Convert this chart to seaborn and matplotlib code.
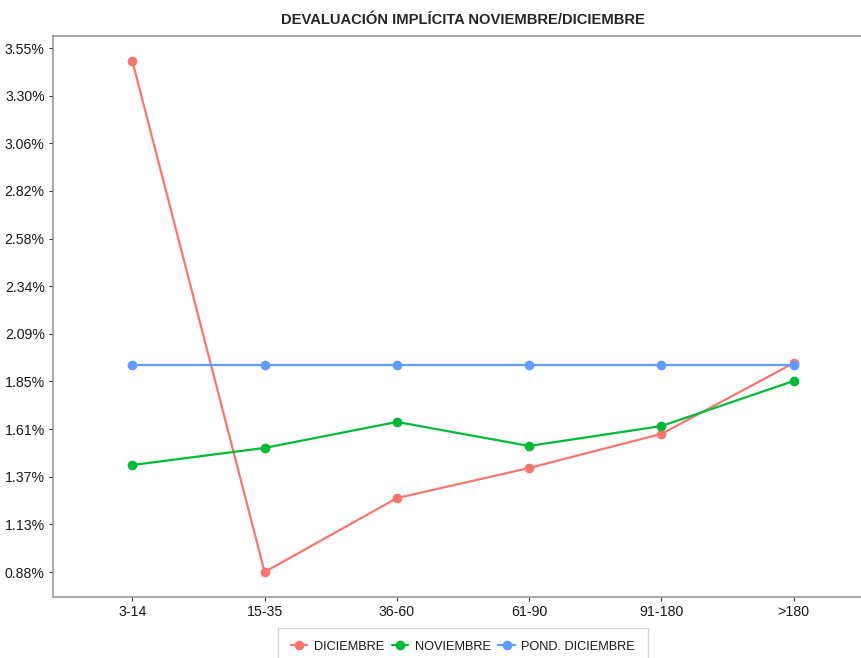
import matplotlib
matplotlib.use("Agg")
import matplotlib.pyplot as plt
import seaborn as sns
import pandas as pd

# datos (en %)
plazos = ["3-14", "15-35", "36-60", "61-90", "91-180", ">180"]
diciembre = [3.481, 0.8845, 1.260, 1.413, 1.586, 1.946]
noviembre = [1.428, 1.515, 1.647, 1.525, 1.626, 1.855]
pond_diciembre = [1.936, 1.936, 1.936, 1.936, 1.936, 1.936]

series = ["DICIEMBRE", "NOVIEMBRE", "POND. DICIEMBRE"]
colores = ["#F8766D", "#00BA38", "#619CFF"]

ticks_y = [0.8845, 1.1266, 1.3686, 1.6107, 1.8527, 2.0948, 2.3368, 2.5789, 2.8209, 3.0630, 3.3050, 3.5470]
etiquetas_y = ["0.88%", "1.13%", "1.37%", "1.61%", "1.85%", "2.09%", "2.34%", "2.58%", "2.82%", "3.06%", "3.30%", "3.55%"]

df = pd.DataFrame({
    "plazo": plazos * 3,
    "valor": diciembre + noviembre + pond_diciembre,
    "serie": [series[0]] * 6 + [series[1]] * 6 + [series[2]] * 6,
})

sns.set_style("white")
plt.rcParams["font.family"] = ["Liberation Sans", "DejaVu Sans"]

fig = plt.figure(figsize=(8.62, 6.58), dpi=100)
ax = fig.add_axes([53 / 862, 61 / 658, 820 / 862, 561 / 658])

sns.pointplot(data=df, x="plazo", y="valor", hue="serie", order=plazos,
              hue_order=series, palette=colores, markers="o", linestyles="-",
              markersize=5.8, linewidth=1.6, ax=ax, legend=True)

ax.set_xlim(-0.6, 5.6)
ax.set_ylim(0.7575, 3.608)
ax.set_yticks(ticks_y)
ax.set_yticklabels(etiquetas_y)
ax.set_xlabel("")
ax.set_ylabel("")
ax.tick_params(axis="both", labelsize=10.2, colors="#333333", length=3, width=0.8,
               direction="out", bottom=True, left=True, pad=3)
for lab in ax.get_xticklabels() + ax.get_yticklabels():
    lab.set_color("#1a1a1a")

for lado in ["left", "bottom", "top", "right"]:
    ax.spines[lado].set_color("#9a9a9a")
    ax.spines[lado].set_linewidth(1.2)
ax.grid(False)

fig.text(463 / 862, 1 - 20 / 658, "DEVALUACIÓN IMPLÍCITA NOVIEMBRE/DICIEMBRE",
         ha="center", va="center", fontsize=10.6, fontweight="bold")

handles, labels = ax.get_legend_handles_labels()
ax.get_legend().remove()
leg = fig.legend(handles, labels, loc="upper center", bbox_to_anchor=(463 / 862, 30 / 658),
                 ncol=3, frameon=True, fontsize=9.2, handlelength=1.3, columnspacing=0.6,
                 handletextpad=0.5, borderpad=1.0, borderaxespad=0, fancybox=False)
for t in leg.get_texts():
    t.set_color("#1a1a1a")
leg.get_frame().set_edgecolor("#cccccc")
leg.get_frame().set_linewidth(1.0)

fig.savefig("out.png", dpi=100)
